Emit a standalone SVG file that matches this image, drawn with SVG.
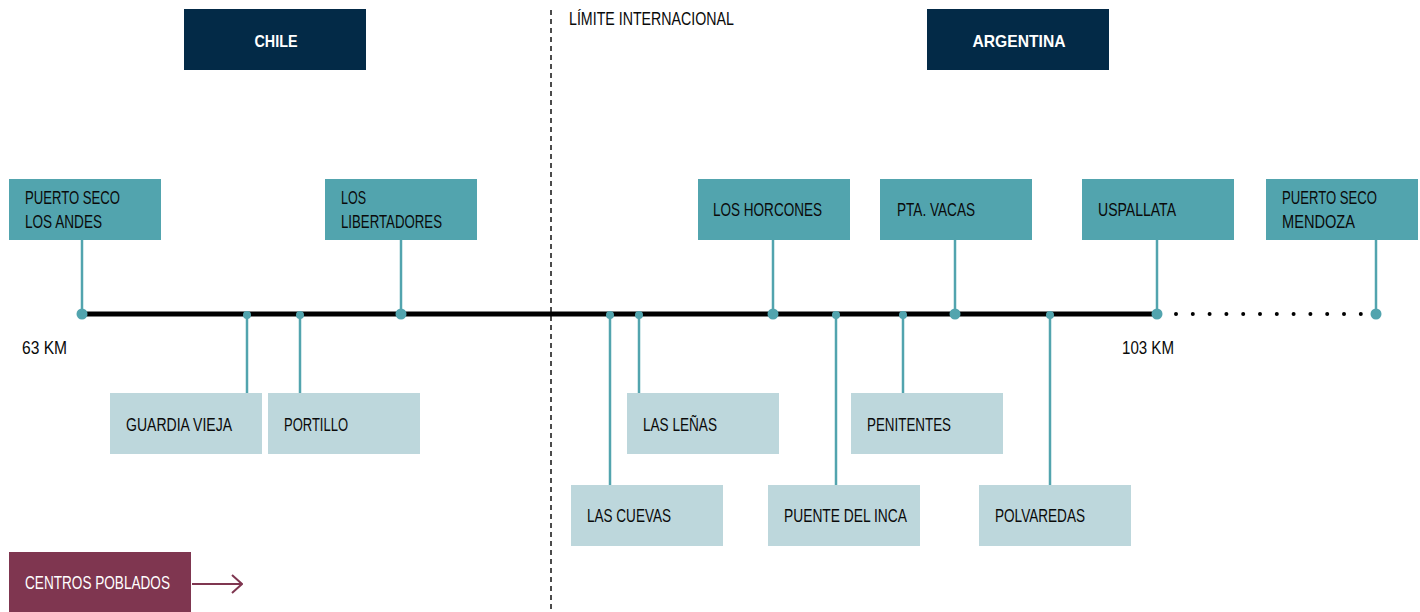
<svg xmlns="http://www.w3.org/2000/svg" width="1420" height="612" viewBox="0 0 1420 612">
<defs>
<style>
text{font-family:"Liberation Sans",Arial,sans-serif;font-size:18px;fill:#0a0a0a;}
.head{fill:#032a47;}
.headt{fill:#fff;font-weight:bold;font-size:17px;}
.top{fill:#52a4ae;}
.bot{fill:#bdd7dc;}
.leg{fill:#7f3650;}
.legt{fill:#fff;}
.conn{stroke:#52a4ae;stroke-width:2.5;fill:none;}
.dot{fill:#52a4ae;}
</style>
<marker id="arr" viewBox="0 0 12 20" refX="11" refY="10" markerWidth="12" markerHeight="20" markerUnits="userSpaceOnUse" orient="auto">
<path d="M1,1 L11,10 L1,19" fill="none" stroke="#7f3650" stroke-width="2"/>
</marker>
</defs>
<rect width="1420" height="612" fill="#fff"/>

<g id="border">
<line x1="551" y1="10" x2="551" y2="612" stroke="#111" stroke-width="1.5" stroke-dasharray="5 4"/>
<text x="569" y="25" textLength="165" lengthAdjust="spacingAndGlyphs">LÍMITE INTERNACIONAL</text>
</g>

<g id="chile">
<rect class="head" x="184" y="9" width="182" height="61"/>
<text class="headt" x="276" y="47" text-anchor="middle" textLength="43" lengthAdjust="spacingAndGlyphs">CHILE</text>
</g>
<g id="argentina">
<rect class="head" x="927" y="9" width="182" height="61"/>
<text class="headt" x="1019" y="47" text-anchor="middle" textLength="93" lengthAdjust="spacingAndGlyphs">ARGENTINA</text>
</g>

<g id="connectors">
<line x1="82" y1="314" x2="1157" y2="314" stroke="#000" stroke-width="5"/>
<line x1="1176" y1="314" x2="1361" y2="314" stroke="#000" stroke-width="4" stroke-linecap="round" stroke-dasharray="0 16.8"/>
<line class="conn" x1="82" y1="240" x2="82" y2="314"/>
<line class="conn" x1="401" y1="240" x2="401" y2="314"/>
<line class="conn" x1="773" y1="240" x2="773" y2="314"/>
<line class="conn" x1="955" y1="240" x2="955" y2="314"/>
<line class="conn" x1="1157" y1="240" x2="1157" y2="314"/>
<line class="conn" x1="1376" y1="240" x2="1376" y2="314"/>
<line class="conn" x1="247" y1="314" x2="247" y2="394"/>
<line class="conn" x1="300" y1="314" x2="300" y2="394"/>
<line class="conn" x1="610" y1="314" x2="610" y2="486"/>
<line class="conn" x1="639" y1="314" x2="639" y2="394"/>
<line class="conn" x1="836" y1="314" x2="836" y2="486"/>
<line class="conn" x1="903" y1="314" x2="903" y2="394"/>
<line class="conn" x1="1050" y1="314" x2="1050" y2="486"/>
<circle class="dot" cx="82" cy="314" r="5.5"/>
<circle class="dot" cx="401" cy="314" r="5.5"/>
<circle class="dot" cx="773" cy="314" r="5.5"/>
<circle class="dot" cx="955" cy="314" r="5.5"/>
<circle class="dot" cx="1157" cy="314" r="5.5"/>
<circle class="dot" cx="1376" cy="314" r="5.5"/>
<circle class="dot" cx="247" cy="315" r="4"/>
<circle class="dot" cx="300" cy="315" r="4"/>
<circle class="dot" cx="610" cy="315" r="4"/>
<circle class="dot" cx="639" cy="315" r="4"/>
<circle class="dot" cx="836" cy="315" r="4"/>
<circle class="dot" cx="903" cy="315" r="4"/>
<circle class="dot" cx="1050" cy="315" r="4"/>
</g>

<g id="km">
<text x="22" y="354" textLength="45" lengthAdjust="spacingAndGlyphs">63 KM</text>
<text x="1122" y="354" textLength="52" lengthAdjust="spacingAndGlyphs">103 KM</text>
</g>

<g id="puerto-seco-los-andes">
<rect class="top" x="9" y="179" width="152" height="61"/>
<text x="25" y="204" textLength="95" lengthAdjust="spacingAndGlyphs">PUERTO SECO</text>
<text x="25" y="228" textLength="77" lengthAdjust="spacingAndGlyphs">LOS ANDES</text>
</g>
<g id="los-libertadores">
<rect class="top" x="325" y="179" width="152" height="61"/>
<text x="341" y="204" textLength="25" lengthAdjust="spacingAndGlyphs">LOS</text>
<text x="341" y="228" textLength="101" lengthAdjust="spacingAndGlyphs">LIBERTADORES</text>
</g>
<g id="los-horcones">
<rect class="top" x="698" y="179" width="152" height="61"/>
<text x="713" y="216" textLength="109" lengthAdjust="spacingAndGlyphs">LOS HORCONES</text>
</g>
<g id="pta-vacas">
<rect class="top" x="880" y="179" width="152" height="61"/>
<text x="897" y="216" textLength="78" lengthAdjust="spacingAndGlyphs">PTA. VACAS</text>
</g>
<g id="uspallata">
<rect class="top" x="1082" y="179" width="152" height="61"/>
<text x="1098" y="216" textLength="78" lengthAdjust="spacingAndGlyphs">USPALLATA</text>
</g>
<g id="puerto-seco-mendoza">
<rect class="top" x="1266" y="179" width="152" height="61"/>
<text x="1282" y="204" textLength="95" lengthAdjust="spacingAndGlyphs">PUERTO SECO</text>
<text x="1282" y="228" textLength="73" lengthAdjust="spacingAndGlyphs">MENDOZA</text>
</g>

<g id="guardia-vieja">
<rect class="bot" x="110" y="393" width="152" height="61"/>
<text x="126" y="431" textLength="106" lengthAdjust="spacingAndGlyphs">GUARDIA VIEJA</text>
</g>
<g id="portillo">
<rect class="bot" x="268" y="393" width="152" height="61"/>
<text x="284" y="431" textLength="64" lengthAdjust="spacingAndGlyphs">PORTILLO</text>
</g>
<g id="las-lenas">
<rect class="bot" x="627" y="393" width="152" height="61"/>
<text x="643" y="431" textLength="74" lengthAdjust="spacingAndGlyphs">LAS LEÑAS</text>
</g>
<g id="penitentes">
<rect class="bot" x="851" y="393" width="152" height="61"/>
<text x="867" y="431" textLength="84" lengthAdjust="spacingAndGlyphs">PENITENTES</text>
</g>
<g id="las-cuevas">
<rect class="bot" x="571" y="485" width="152" height="61"/>
<text x="587" y="522" textLength="84" lengthAdjust="spacingAndGlyphs">LAS CUEVAS</text>
</g>
<g id="puente-del-inca">
<rect class="bot" x="768" y="485" width="152" height="61"/>
<text x="784" y="522" textLength="123" lengthAdjust="spacingAndGlyphs">PUENTE DEL INCA</text>
</g>
<g id="polvaredas">
<rect class="bot" x="979" y="485" width="152" height="61"/>
<text x="995" y="522" textLength="90" lengthAdjust="spacingAndGlyphs">POLVAREDAS</text>
</g>

<g id="centros-poblados">
<rect class="leg" x="9" y="552" width="182" height="60"/>
<text class="legt" x="25" y="589" textLength="145" lengthAdjust="spacingAndGlyphs">CENTROS POBLADOS</text>
<line x1="192" y1="584" x2="242" y2="584" stroke="#7f3650" stroke-width="2" marker-end="url(#arr)"/>
</g>
</svg>
